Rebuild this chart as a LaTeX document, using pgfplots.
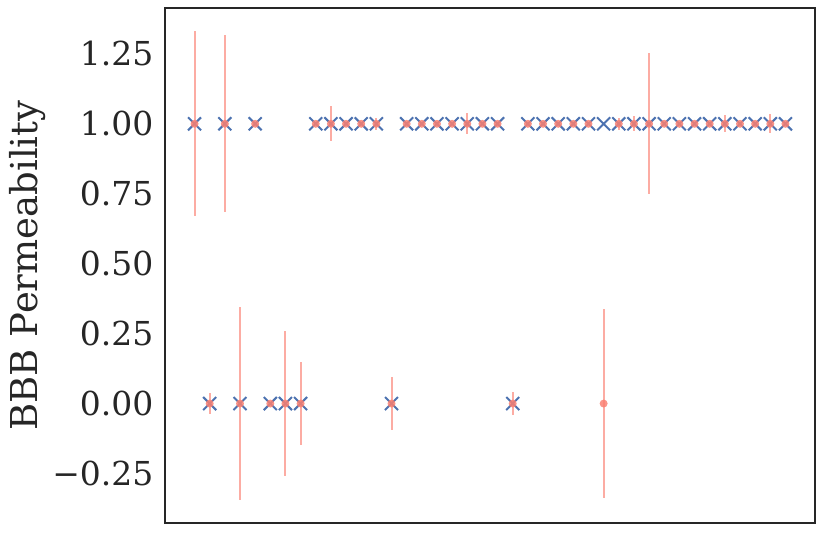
\documentclass[border=0pt]{standalone}
\usepackage{fontspec}
\setmainfont{DejaVu Serif}
\usepackage{pgfplots}
\pgfplotsset{compat=1.18}
\definecolor{sblue}{HTML}{4C72B0}
\definecolor{salmonc}{HTML}{FA8072}
\definecolor{framec}{HTML}{262626}
\begin{document}
\begin{tikzpicture}
\begin{axis}[
  scale only axis,
  width=650pt, height=515pt,
  xmin=-1.95, xmax=40.95,
  ymin=-0.427, ymax=1.414,
  xtick=\empty,
  ytick={-0.25,0,0.25,0.5,0.75,1,1.25},
  yticklabels={−0.25,0.00,0.25,0.50,0.75,1.00,1.25},
  major tick length=0pt,
  yticklabel style={font=\fontsize{33}{40}\selectfont, xshift=-8pt, text=framec},
  ylabel={BBB Permeability},
  every axis y label/.style={at={(axis description cs:-0.212,0.5)}, rotate=90, anchor=center,
    font=\fontsize{37}{44}\selectfont, text=framec},
  axis line style={framec, line width=1.2pt},
  clip=false,
]
% true values (blue x)
\addplot[sblue, only marks, mark=x, mark size=9.2pt, mark options={line width=2pt}] table[x=i, y=t] {
i t
0 1
1 0
2 1
3 0
4 1
5 0
6 0
7 0
8 1
9 1
10 1
11 1
12 1
13 0
14 1
15 1
16 1
17 1
18 1
19 1
20 1
21 0
22 1
23 1
24 1
25 1
26 1
27 1
28 1
29 1
30 1
31 1
32 1
33 1
34 1
35 1
36 1
37 1
38 1
39 1
};
% predicted means with error bars (salmon)
\addplot[salmonc, only marks, mark=*, mark size=4pt, mark options={draw opacity=0, fill=salmonc, fill opacity=0.85},
  error bars/.cd, y dir=both, y explicit, error mark=none,
  error bar style={salmonc, line width=2pt, opacity=0.65}]
  table[x=i, y=m, y error=e] {
i m e
0 1 0.33
1 0 0.039
2 1 0.317
3 0 0.345
4 1 0
5 0 0
6 0 0.259
7 0 0.149
8 1 0
9 1 0.063
10 1 0
11 1 0
12 1 0.022
13 0 0.095
14 1 0
15 1 0
16 1 0
17 1 0
18 1 0.038
19 1 0
20 1 0
21 0 0.04
22 1 0
23 1 0
24 1 0
25 1 0
26 1 0
27 0 0.337
28 1 0.022
29 1 0.027
30 1 0.252
31 1 0
32 1 0
33 1 0
34 1 0
35 1 0.031
36 1 0
37 1 0
38 1 0.034
39 1 0
};
\end{axis}
\path (current axis.south west) +(-165pt,-10pt) (current axis.north east) +(8pt,8pt);
\end{tikzpicture}
\end{document}
